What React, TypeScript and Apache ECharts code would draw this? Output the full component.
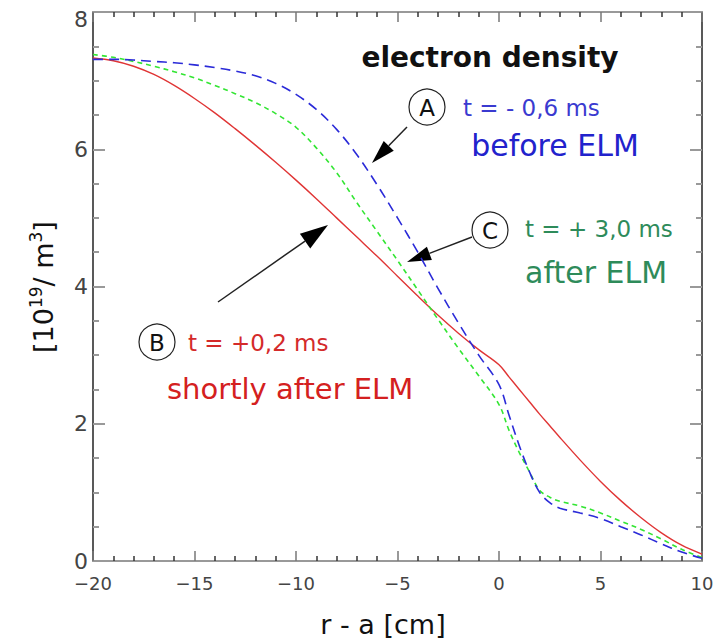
import React, { useEffect, useRef } from "react";
import * as echarts from "echarts";

const rValues = [-20, -19, -18, -17, -16, -15, -14, -13, -12, -11, -10, -9, -8, -7, -6, -5, -4, -3, -2, -1, 0, 0.5, 1, 1.5, 2, 2.5, 3, 4, 5, 6, 7, 8, 9, 10];

// t = +0,2 ms (shortly after ELM)
const redValues = [7.33, 7.29, 7.21, 7.09, 6.93, 6.74, 6.53, 6.3, 6.06, 5.81, 5.55, 5.28, 5.0, 4.72, 4.44, 4.15, 3.86, 3.58, 3.32, 3.08, 2.86, 2.68, 2.5, 2.32, 2.14, 1.97, 1.8, 1.47, 1.16, 0.88, 0.63, 0.41, 0.23, 0.1];
// t = -0,6 ms (before ELM)
const blueValues = [7.31, 7.31, 7.3, 7.28, 7.26, 7.23, 7.19, 7.14, 7.07, 6.96, 6.8, 6.58, 6.29, 5.92, 5.48, 5.0, 4.5, 3.97, 3.47, 3.0, 2.57, 2.12, 1.68, 1.3, 1.0, 0.85, 0.77, 0.7, 0.62, 0.5, 0.38, 0.25, 0.13, 0.04];
// t = +3,0 ms (after ELM)
const greenValues = [7.38, 7.34, 7.28, 7.21, 7.13, 7.04, 6.93, 6.81, 6.68, 6.52, 6.32, 6.02, 5.66, 5.22, 4.8, 4.38, 3.95, 3.52, 3.1, 2.7, 2.28, 1.9, 1.58, 1.3, 1.03, 0.93, 0.87, 0.8, 0.7, 0.58, 0.46, 0.32, 0.17, 0.05];

const xTicks = [-20, -15, -10, -5, 0, 5, 10];
const yTicks = [0, 2, 4, 6, 8];

const FONT = "DejaVu Sans";

function arrow(x1: number, y1: number, x2: number, y2: number, headLen: number, headW: number) {
  const dx = x2 - x1, dy = y2 - y1;
  const L = Math.sqrt(dx * dx + dy * dy);
  const ux = dx / L, uy = dy / L;
  const bx = x2 - ux * headLen, by = y2 - uy * headLen;
  const px = -uy, py = ux;
  return [
    { type: "line", shape: { x1, y1, x2: bx, y2: by }, style: { stroke: "#222", lineWidth: 1.5 } },
    {
      type: "polygon",
      shape: { points: [[x2, y2], [bx + px * headW / 2, by + py * headW / 2], [bx - px * headW / 2, by - py * headW / 2]] },
      style: { fill: "#000" },
    },
  ];
}

function circleLabel(cx: number, cy: number, letter: string) {
  return [
    { type: "circle", shape: { cx, cy, r: 18 }, style: { fill: "#fff", stroke: "#222", lineWidth: 1.2 } },
    { type: "text", x: cx, y: cy + 1, style: { text: letter, fontSize: 23, fontFamily: FONT, fill: "#111", align: "center", verticalAlign: "middle" } },
  ];
}

function txt(x: number, y: number, text: string, size: number, color: string, align = "left", weight = "normal") {
  return { type: "text", x, y, style: { text, fontSize: size, fontFamily: FONT, fill: color, align, verticalAlign: "middle", fontWeight: weight } };
}

export default function App() {
  const ref = useRef<HTMLDivElement>(null);
  useEffect(() => {
    if (!ref.current) return;
    const chart = echarts.init(ref.current, undefined, { renderer: "svg" });
    const mk = (vals: number[]) => rValues.map((r, i) => [r, vals[i]]);
    const fmtX = (v: number) => (xTicks.includes(v) ? (v < 0 ? "\u2212" + Math.abs(v) : String(v)) : "");
    const xCommon = {
      type: "value", min: -20, max: 10, interval: 5,
      axisLine: { show: true, onZero: false, lineStyle: { color: "#999", width: 2 } },
      axisTick: { show: true, inside: true, length: 10, lineStyle: { color: "#777", width: 1.5 } },
      minorTick: { show: true, splitNumber: 5, length: 5, lineStyle: { color: "#333", width: 1.5 } },
      splitLine: { show: false },
    };
    const yCommon = {
      type: "value", min: 0, max: 8, interval: 2,
      axisLine: { show: true, onZero: false, lineStyle: { color: "#222", width: 1.5 } },
      axisTick: { show: true, inside: true, length: 12, lineStyle: { color: "#999", width: 2 } },
      minorTick: { show: true, splitNumber: 4, length: 6, lineStyle: { color: "#999", width: 2 } },
      splitLine: { show: false },
    };
    const option: any = {
      animation: false,
      backgroundColor: "#fff",
      grid: { left: 93, right: 25, top: 12, bottom: 80 },
      xAxis: [
        {
          ...xCommon, position: "bottom",
          axisLabel: { formatter: fmtX, fontSize: 18, fontFamily: FONT, color: "#444", margin: 13 },
        },
        { ...xCommon, position: "top", axisLabel: { show: false } },
      ],
      yAxis: [
        {
          ...yCommon, position: "left",
          axisLabel: {
            formatter: (v: number) => (yTicks.includes(v) ? (v === 8 ? "{t|8}" : String(v)) : ""),
            fontSize: 22, fontFamily: FONT, color: "#444", margin: 5,
            rich: { t: { fontSize: 22, fontFamily: FONT, color: "#444", padding: [14, 0, 0, 0] } },
          },
        },
        { ...yCommon, position: "right", axisLabel: { show: false } },
      ],
      series: [
        {
          name: "t = +0,2 ms", type: "line", data: mk(redValues), showSymbol: false, smooth: 0.35,
          lineStyle: { color: "#e03535", width: 1.4 },
        },
        {
          name: "t = +3,0 ms", type: "line", data: mk(greenValues), showSymbol: false, smooth: 0.35,
          lineStyle: { color: "#33e533", width: 1.6, type: [5, 4] },
        },
        {
          name: "t = - 0,6 ms", type: "line", data: mk(blueValues), showSymbol: false, smooth: 0.35,
          lineStyle: { color: "#2b2bd8", width: 1.6, type: [10, 6] },
        },
      ],
      graphic: [
        txt(490, 57, "electron density", 28, "#111", "center", "bold"),
        txt(383, 624, "r - a [cm]", 27, "#111", "center"),
        {
          type: "text", x: 43, y: 287, rotation: Math.PI / 2,
          style: {
            text: "{n|[10}{s|19}{n|/ m}{s|3}{n|]}",
            align: "center", verticalAlign: "middle",
            rich: {
              n: { fontSize: 27, fontFamily: FONT, fill: "#111", color: "#111" },
              s: { fontSize: 17, fontFamily: FONT, fill: "#111", color: "#111", padding: [0, 0, 14, 0] },
            },
          },
        },
        ...arrow(407, 127, 372, 163, 24, 14),
        ...arrow(218, 302, 328, 225, 28, 18),
        ...arrow(472, 237, 407, 262, 24, 14),
        ...circleLabel(427, 107, "A"),
        ...circleLabel(157, 342, "B"),
        ...circleLabel(490, 230, "C"),
        txt(463, 108, "t = - 0,6 ms", 23, "#3a3ad0"),
        txt(555, 145, "before ELM", 30, "#2222cc", "center"),
        txt(188, 343, "t = +0,2 ms", 23, "#d42a2a"),
        txt(167, 389, "shortly after ELM", 29, "#d42020"),
        txt(525, 229, "t = + 3,0 ms", 23, "#2e8b5a"),
        txt(525, 272, "after ELM", 30, "#2e8b5a"),
      ],
    };
    chart.setOption(option);
    return () => chart.dispose();
  }, []);
  return <div ref={ref} style={{ position: "fixed", left: 0, top: 0, width: 727, height: 641 }} />;
}
